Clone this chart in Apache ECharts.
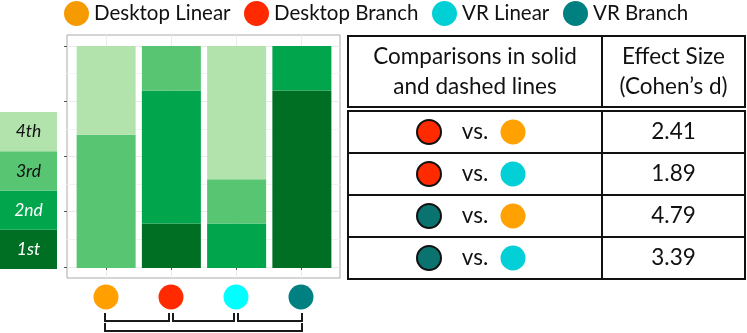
<!DOCTYPE html>
<html>
<head>
<meta charset="utf-8">
<script src="https://cdn.jsdelivr.net/npm/echarts@6/dist/echarts.min.js"></script>
<style>
  html, body { margin: 0; padding: 0; background: #fff; }
  #chart { width: 747px; height: 333px; }
</style>
</head>
<body>
<div id="chart"></div>
<script>
// conditions along the x axis, in bar order
const conditions = ['Desktop Linear', 'Desktop Branch', 'VR Linear', 'VR Branch']
// share of each ranking per condition, stacked bottom (1st) to top (4th)
const ranks = ['1st', '2nd', '3rd', '4th']
const rank1st = [0, 0.2, 0, 0.8]
const rank2nd = [0, 0.6, 0.2, 0.2]
const rank3rd = [0.6, 0.2, 0.2, 0]
const rank4th = [0.4, 0, 0.6, 0]
const yTicks = [0, 0.25, 0.5, 0.75, 1]
const yMinorTicks = [0.125, 0.375, 0.625, 0.875]
// brackets under the axis: [from, to, level]
const brackets = [[1, 2, 0], [2, 3, 0], [3, 4, 0], [1, 4, 1]]
// table rows
const comparisons = [
  ['Desktop Branch', 'Desktop Linear'],
  ['Desktop Branch', 'VR Linear'],
  ['VR Branch', 'Desktop Linear'],
  ['VR Branch', 'VR Linear']
]
const effectSizes = ['2.41', '1.89', '4.79', '3.39']

const rankValues = [rank1st, rank2nd, rank3rd, rank4th]
const rankColors = ['#006f24', '#00a54c', '#57c571', '#b2e3ad']
const rankText = ['#fff', '#fff', '#111', '#111']
const markerColors = { 'Desktop Linear': '#ffa000', 'Desktop Branch': '#ff2a00', 'VR Linear': '#00ffff', 'VR Branch': '#008080' }
const legendColors = { 'Desktop Linear': '#f59b00', 'Desktop Branch': '#ff2a00', 'VR Linear': '#00d0d6', 'VR Branch': '#008080' }
const tableColors = { 'Desktop Linear': '#ffa100', 'Desktop Branch': '#ff2a00', 'VR Linear': '#03cfd6', 'VR Branch': '#0a7370' }
const legendLeft = [64, 244, 432, 563]
const font = 'Lato'
const ink = '#111'

const chart = echarts.init(document.getElementById('chart'))

// left key: coloured blocks with rank names
let keyGraphics = []
ranks.forEach((r, k) => {
  const h = 39.25, y = 269 - (k + 1) * h
  keyGraphics.push({
    type: 'rect', shape: { x: 0, y: y, width: 57, height: h },
    style: { fill: rankColors[k] }
  })
  keyGraphics.push({
    type: 'text', x: 28.5, y: y + h / 2,
    style: { text: r, fill: rankText[k], font: 'italic 17.5px ' + font, align: 'center', verticalAlign: 'middle' }
  })
})

// effect size table
const tL = 348, tR = 745, tMid = 602, hTop = 36, hBot = 107, bTop = 111, rowH = 42
let tableGraphics = [
  { type: 'rect', shape: { x: tL, y: hTop, width: tR - tL, height: hBot - hTop }, style: { fill: '#fff', stroke: ink, lineWidth: 2 } },
  { type: 'line', shape: { x1: tMid, y1: hTop, x2: tMid, y2: hBot }, style: { stroke: ink, lineWidth: 2 } },
  { type: 'text', x: (tL + tMid) / 2, y: 72, style: { text: 'Comparisons in solid\nand dashed lines', font: '22.5px ' + font, fill: ink, align: 'center', verticalAlign: 'middle', lineHeight: 30 } },
  { type: 'text', x: (tMid + tR) / 2, y: 72, style: { text: 'Effect Size\n(Cohen\u2019s d)', font: '22.5px ' + font, fill: ink, align: 'center', verticalAlign: 'middle', lineHeight: 30 } },
  { type: 'rect', shape: { x: tL, y: bTop, width: tR - tL, height: rowH * comparisons.length }, style: { fill: '#fff', stroke: ink, lineWidth: 2 } },
  { type: 'line', shape: { x1: tMid, y1: bTop, x2: tMid, y2: bTop + rowH * comparisons.length }, style: { stroke: ink, lineWidth: 2 } }
]
comparisons.forEach((pair, i) => {
  const cy = bTop + rowH * i + rowH / 2
  if (i > 0) {
    tableGraphics.push({ type: 'line', shape: { x1: tL, y1: bTop + rowH * i, x2: tR, y2: bTop + rowH * i }, style: { stroke: ink, lineWidth: 2 } })
  }
  tableGraphics.push({ type: 'circle', shape: { cx: 429, cy: cy, r: 12 }, style: { fill: tableColors[pair[0]], stroke: ink, lineWidth: 2 } })
  tableGraphics.push({ type: 'text', x: 475, y: cy, style: { text: 'vs.', font: '22.5px ' + font, fill: ink, align: 'center', verticalAlign: 'middle' } })
  tableGraphics.push({ type: 'circle', shape: { cx: 513, cy: cy, r: 12.5 }, style: { fill: tableColors[pair[1]] } })
  tableGraphics.push({ type: 'text', x: (tMid + tR) / 2, y: cy, style: { text: effectSizes[i], font: '22.5px ' + font, fill: ink, align: 'center', verticalAlign: 'middle' } })
})

const xBase = { type: 'value', min: 0.4, max: 4.6 }

const option = {
  animation: false,
  backgroundColor: '#fff',
  textStyle: { fontFamily: font },
  legend: conditions.map((name, i) => ({
    data: [{ name: name, itemStyle: { color: legendColors[name], opacity: 1 } }],
    left: legendLeft[i],
    top: 1,
    padding: 0,
    icon: 'circle',
    itemWidth: 25,
    itemHeight: 25,
    selectedMode: false,
    textStyle: { fontSize: 20.5, fontFamily: font, color: ink }
  })),
  grid: [
    // panel: border, grid lines, ticks
    { left: 67, top: 35, width: 273, height: 243, show: true, borderColor: '#aaaaaa', borderWidth: 1, backgroundColor: '#fff' },
    // marker row
    { left: 67, top: 285, width: 273, height: 24 },
    // brackets
    { left: 67, top: 313, width: 273, height: 20 },
    // bars (data range inside the panel)
    { left: 73.5, top: 46, width: 261, height: 222 }
  ],
  xAxis: [
    {
      ...xBase, gridIndex: 0,
      axisLine: { show: false },
      axisLabel: { show: false },
      axisTick: { show: true, length: 3, customValues: [1, 2, 3, 4], lineStyle: { color: '#555' } },
      splitLine: { show: true, customValues: [1, 2, 3, 4], lineStyle: { color: '#ebebeb', width: 1 } }
    },
    { ...xBase, gridIndex: 1, show: false },
    { ...xBase, gridIndex: 2, show: false },
    { type: 'category', gridIndex: 3, data: conditions, show: false }
  ],
  yAxis: [
    {
      type: 'value', gridIndex: 0, min: -0.05, max: 1.05,
      axisLine: { show: false },
      axisLabel: { show: false },
      axisTick: { show: true, length: 3, customValues: yTicks, lineStyle: { color: '#555' } },
      splitLine: { show: true, customValues: yTicks, lineStyle: { color: '#ebebeb', width: 1 } }
    },
    {
      type: 'value', gridIndex: 0, min: -0.05, max: 1.05, position: 'left',
      axisLine: { show: false },
      axisLabel: { show: false },
      axisTick: { show: false, customValues: yMinorTicks },
      splitLine: { show: true, customValues: yMinorTicks, lineStyle: { color: '#f3f3f3', width: 1 } }
    },
    { type: 'value', gridIndex: 1, min: -1, max: 1, show: false },
    { type: 'value', gridIndex: 2, min: 0, max: 2, inverse: true, show: false },
    { type: 'value', gridIndex: 3, min: 0, max: 1, show: false }
  ],
  series: [
    ...ranks.map((r, k) => ({
      name: r,
      type: 'bar',
      stack: 'rank',
      xAxisIndex: 3,
      yAxisIndex: 4,
      barWidth: 59,
      emphasis: { disabled: true },
      itemStyle: { color: rankColors[k] },
      data: rankValues[k]
    })),
    ...conditions.map((name, i) => ({
      name: name,
      type: 'scatter',
      xAxisIndex: 1,
      yAxisIndex: 2,
      symbol: 'circle',
      symbolSize: 25,
      emphasis: { disabled: true },
      itemStyle: { color: markerColors[name], opacity: 1 },
      data: [[i + 1, 0]]
    })),
    {
      type: 'custom',
      xAxisIndex: 2,
      yAxisIndex: 3,
      silent: true,
      encode: { x: [0, 1], y: 2 },
      data: brackets,
      renderItem: (params, api) => {
        const from = api.value(0), to = api.value(1), level = api.value(2)
        // leave a small gap where two brackets on one level meet
        const sharedLeft = brackets.some(b => b[2] === level && b[1] === from)
        const sharedRight = brackets.some(b => b[2] === level && b[0] === to)
        const top = api.coord([from, level])
        const bottom = api.coord([to, level + 0.8])
        const x1 = top[0] + (sharedLeft ? 2 : -1)
        const x2 = bottom[0] + (sharedRight ? -2 : 1)
        return {
          type: 'polyline',
          shape: { points: [[x1, top[1]], [x1, bottom[1]], [x2, bottom[1]], [x2, top[1]]] },
          style: { stroke: '#1a1a1a', lineWidth: 2, fill: null }
        }
      }
    }
  ],
  graphic: [...keyGraphics, ...tableGraphics]
}

chart.setOption(option)
</script>
</body>
</html>
